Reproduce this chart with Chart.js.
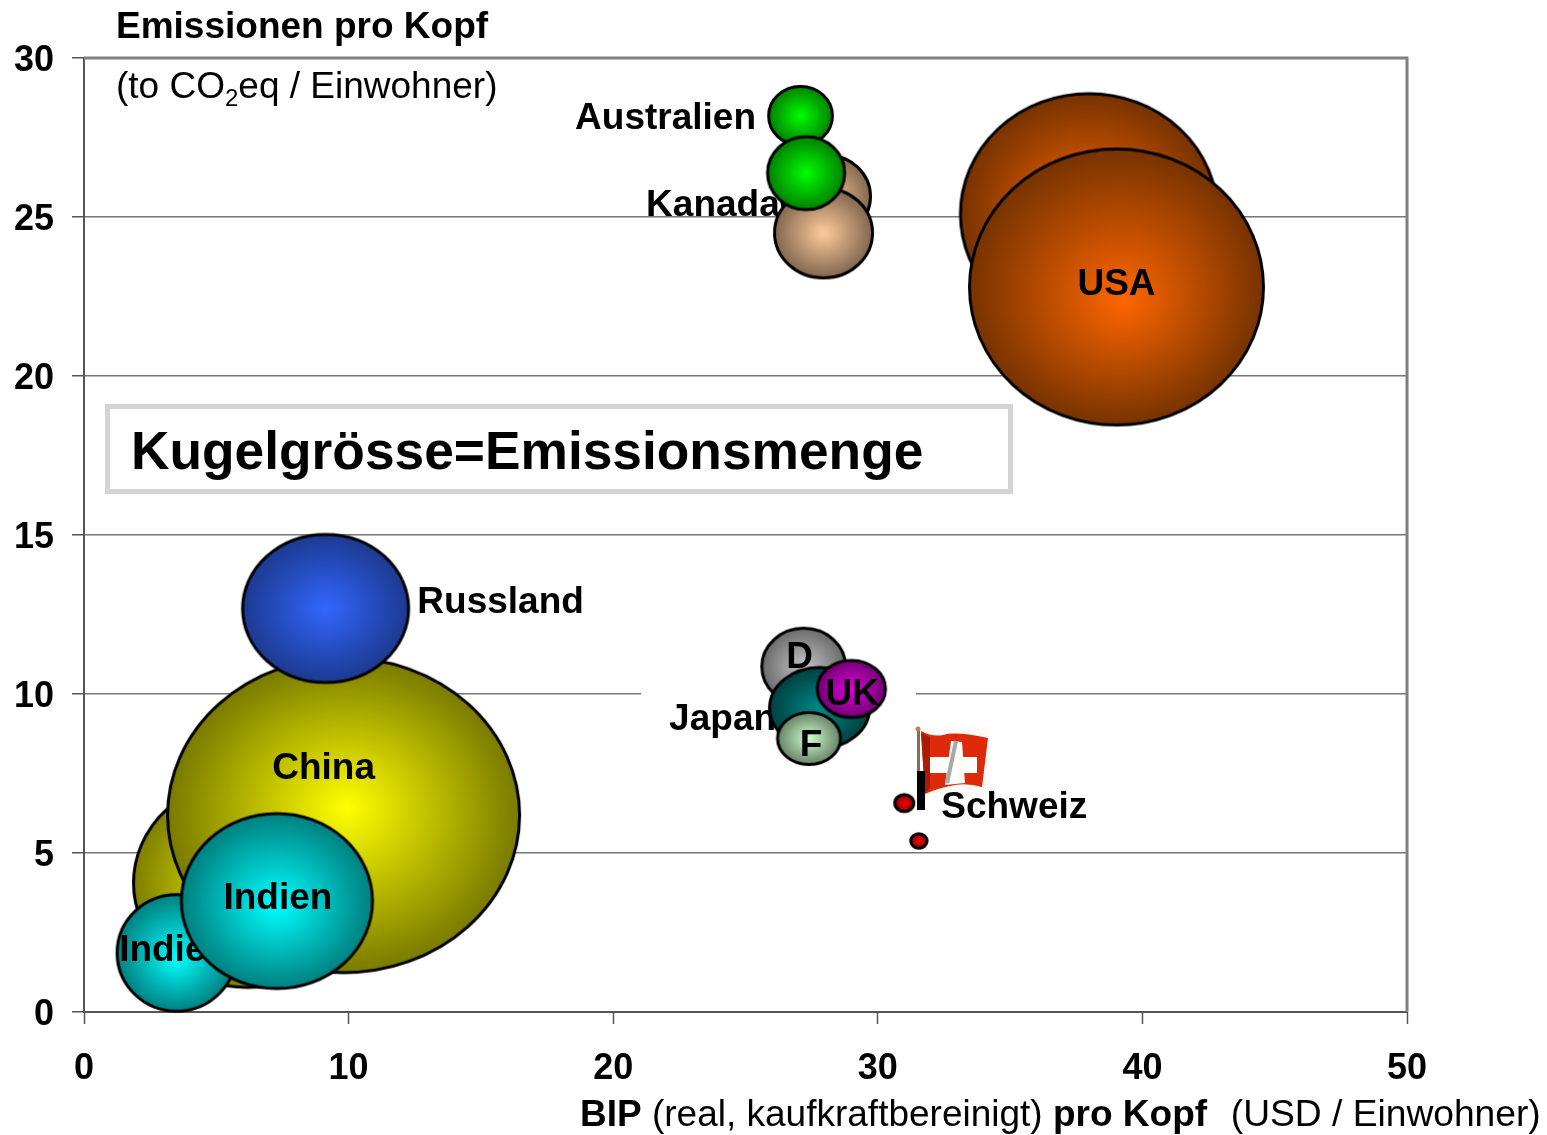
<!DOCTYPE html>
<html lang="de">
<head>
<meta charset="utf-8">
<title>Emissionen pro Kopf</title>
<script src="https://cdn.jsdelivr.net/npm/chart.js@4/dist/chart.umd.min.js"></script>
<style>
    html, body { margin: 0; padding: 0; background: #fff; }
    canvas { display: block; }
</style>
</head>
<body>
<canvas id="kugelChart" width="1547" height="1135"></canvas>
<script>
// Daten (je Land ein früheres und ein späteres Jahr)
const laender   = ['China alt', 'Indien alt', 'China', 'Indien', 'Russland', 'USA alt', 'USA', 'Kanada alt', 'Kanada', 'Australien alt', 'Australien', 'D', 'Japan', 'UK', 'F', 'Schweiz alt', 'Schweiz'];
const bipProKopf = [6.2, 3.5, 9.81, 7.29, 9.13, 37.98, 39.02, 28.04, 27.95, 27.08, 27.29, 27.2, 27.8, 29.0, 27.4, 31.0, 31.55];
const co2ProKopf = [4.06, 1.86, 6.19, 3.49, 12.69, 25.09, 22.8, 25.65, 24.5, 28.18, 26.38, 10.86, 9.56, 10.16, 8.6, 6.57, 5.38];
const co2Menge   = [5.29, 1.44, 12.46, 3.69, 2.79, 6.66, 8.7, 0.81, 0.98, 0.42, 0.61, 0.72, 1.02, 0.48, 0.41, 0.04, 0.03];
const xTicks = [0, 10, 20, 30, 40, 50];
const yTicks = [0, 5, 10, 15, 20, 25, 30];

// Darstellung der Kugeln
const RADIUS_FAKTOR = 50;
const stile = {
    'China alt':      { innen: '#ffff00', aussen: '#7f7f00', oval: 1.095, hx: 0.1, hy: 0 },
    'Indien alt':     { innen: '#00ffff', aussen: '#007f7f', oval: 1.02, hx: 0, hy: 0.1 },
    'China':          { innen: '#ffff00', aussen: '#7a7a00', oval: 1.117, hx: 0.02, hy: -0.05 },
    'Indien':         { innen: '#00ffff', aussen: '#007f7f', oval: 1.09, hx: 0, hy: 0.05 },
    'Russland':       { innen: '#3366ff', aussen: '#1c3a90', oval: 1.12, hx: 0, hy: 0 },
    'USA alt':        { innen: '#ff6600', aussen: '#773300', oval: 1.066, hx: 0, hy: 0 },
    'USA':            { innen: '#ff6600', aussen: '#773300', oval: 1.065, hx: 0.05, hy: 0.1 },
    'Kanada alt':     { innen: '#ffcc99', aussen: '#806650', oval: 1.07, hx: 0, hy: 0 },
    'Kanada':         { innen: '#ffcc99', aussen: '#806650', oval: 1.088, hx: 0, hy: 0 },
    'Australien alt': { innen: '#00ff00', aussen: '#007f00', oval: 1.083, hx: 0, hy: 0 },
    'Australien':     { innen: '#00ff00', aussen: '#007f00', oval: 1.054, hx: 0, hy: 0 },
    'D':              { innen: '#c4c4c4', aussen: '#6a6a6a', oval: 1.09, hx: 0, hy: 0 },
    'Japan':          { innen: '#008888', aussen: '#004040', oval: 1.23, hx: 0, hy: 0 },
    'UK':             { innen: '#dd00dd', aussen: '#700070', oval: 1.19, hx: 0, hy: 0 },
    'F':              { innen: '#ccffcc', aussen: '#668066', oval: 1.21, hx: 0, hy: 0 },
    'Schweiz alt':    { innen: '#ff0000', aussen: '#7f0000', oval: 1.11, hx: 0, hy: 0 },
    'Schweiz':        { innen: '#ff0000', aussen: '#7f0000', oval: 1.11, hx: 0, hy: 0 }
};

// Beschriftungen: Versatz in Pixeln zur Kugelmitte, darunter = vor der Kugel zeichnen
const beschriftungen = {
    'Indien alt': { text: 'Indien', dx: -3, dy: -2 },
    'China':      { text: 'China', dx: -20, dy: -46 },
    'Indien':     { text: 'Indien', dx: 1, dy: -2 },
    'Russland':   { text: 'Russland', dx: 175, dy: -6 },
    'USA':        { text: 'USA', dx: 0, dy: -2 },
    'Kanada alt': { text: 'Kanada', dx: -113, dy: 9 },
    'Australien alt': { text: 'Australien', dx: -135, dy: 3 },
    'D':          { text: 'D', dx: -4, dy: -9 },
    'Japan':      { text: 'Japan', dx: -97, dy: 12, darunter: true },
    'UK':         { text: 'UK', dx: 1, dy: 6 },
    'F':          { text: 'F', dx: 2, dy: 7 },
    'Schweiz alt': { text: 'Schweiz', dx: 110, dy: 5 }
};

const FONT = '"Liberation Sans", Arial, sans-serif';

// Kugel als kleines Canvas, Chart.js setzt es als pointStyle an den Datenpunkt
function kugelBild(stil, rx) {
    const ry = rx / stil.oval;
    const rand = 3;
    const bild = document.createElement('canvas');
    bild.width = Math.ceil(2 * rx + 2 * rand);
    bild.height = Math.ceil(2 * ry + 2 * rand);
    const ctx = bild.getContext('2d');
    const mx = bild.width / 2;
    const my = bild.height / 2;

    ctx.save();
    ctx.translate(mx, my);
    ctx.scale(1, 1 / stil.oval);
    const verlauf = ctx.createRadialGradient(stil.hx * rx, stil.hy * rx, 0, 0, 0, rx);
    verlauf.addColorStop(0, stil.innen);
    verlauf.addColorStop(1, stil.aussen);
    ctx.fillStyle = verlauf;
    ctx.beginPath();
    ctx.arc(0, 0, rx, 0, Math.PI * 2);
    ctx.fill();
    ctx.restore();

    ctx.beginPath();
    ctx.ellipse(mx, my, rx - 0.5, ry - 0.5, 0, 0, Math.PI * 2);
    ctx.lineWidth = 3;
    ctx.strokeStyle = '#000';
    ctx.stroke();
    return bild;
}

// Chart.js zeichnet von hinten nach vorne über order, darum absteigend
const datasets = laender.map((land, i) => {
    const r = RADIUS_FAKTOR * Math.sqrt(co2Menge[i]);
    return {
        label: land,
        order: laender.length - i,
        clip: false,
        data: [{ x: bipProKopf[i], y: co2ProKopf[i], r: r }],
        pointStyle: kugelBild(stile[land], r),
        backgroundColor: stile[land].innen,
        borderColor: '#000'
    };
});

function zeichneLabel(chart, land) {
    const b = beschriftungen[land];
    if (!b) return;
    const i = laender.indexOf(land);
    const px = chart.scales.x.getPixelForValue(bipProKopf[i]) + b.dx;
    const py = chart.scales.y.getPixelForValue(co2ProKopf[i]) + b.dy;
    const ctx = chart.ctx;
    ctx.save();
    ctx.font = 'bold 37px ' + FONT;
    ctx.fillStyle = '#000';
    ctx.textAlign = 'center';
    ctx.textBaseline = 'middle';
    ctx.fillText(b.text, px, py);
    ctx.restore();
}

// Text aus mehreren Stücken in einer Zeile
function textZeile(ctx, x, y, stuecke) {
    ctx.textAlign = 'left';
    ctx.textBaseline = 'alphabetic';
    ctx.fillStyle = '#000';
    stuecke.forEach(s => {
        ctx.font = s.font;
        x += s.vor || 0;
        ctx.fillText(s.text, x, y + (s.tief || 0));
        x += ctx.measureText(s.text).width;
    });
}

function zeichneFahne(ctx) {
    ctx.save();
    ctx.fillStyle = '#fdfbf8';
    ctx.fillRect(917, 727, 72, 68);
    // Stange
    ctx.fillStyle = '#8a6a5a';
    ctx.fillRect(917, 731, 3, 64);
    ctx.fillStyle = '#c08050';
    ctx.beginPath();
    ctx.arc(918, 729, 2.5, 0, Math.PI * 2);
    ctx.fill();
    // Tuch
    ctx.fillStyle = '#dd2a08';
    ctx.beginPath();
    ctx.moveTo(921, 731);
    ctx.quadraticCurveTo(932, 737, 943, 735);
    ctx.quadraticCurveTo(955, 731, 988, 738);
    ctx.lineTo(982, 787);
    ctx.quadraticCurveTo(968, 783, 955, 785);
    ctx.quadraticCurveTo(938, 788, 925, 794);
    ctx.closePath();
    ctx.fill();
    ctx.fillStyle = '#a81c05';
    ctx.beginPath();
    ctx.moveTo(921, 733);
    ctx.lineTo(930, 737);
    ctx.lineTo(930, 788);
    ctx.lineTo(925, 793);
    ctx.closePath();
    ctx.fill();
    // Kreuz
    ctx.fillStyle = '#fdfdfa';
    ctx.fillRect(930, 757, 47, 16);
    ctx.beginPath();
    ctx.moveTo(951, 741);
    ctx.lineTo(962, 742);
    ctx.lineTo(965, 783);
    ctx.lineTo(945, 785);
    ctx.closePath();
    ctx.fill();
    ctx.strokeStyle = '#a8a8a8';
    ctx.lineWidth = 4;
    ctx.beginPath();
    ctx.moveTo(956, 741);
    ctx.lineTo(947, 783);
    ctx.stroke();
    ctx.restore();
}

const schmuckPlugin = {
    id: 'schmuck',
    beforeDatasetsDraw(chart) {
        const ctx = chart.ctx;
        const a = chart.chartArea;
        ctx.save();
        // Rahmen oben und rechts
        ctx.strokeStyle = '#808080';
        ctx.lineWidth = 3;
        ctx.beginPath();
        ctx.moveTo(a.left, a.top);
        ctx.lineTo(a.right, a.top);
        ctx.lineTo(a.right, a.bottom);
        ctx.stroke();
        // Lücke in der 10er-Linie
        ctx.fillStyle = '#fff';
        ctx.fillRect(641, chart.scales.y.getPixelForValue(10) - 3, 275, 6);
        // Hinweisfeld
        ctx.fillStyle = '#fff';
        ctx.fillRect(107, 406, 904, 86);
        ctx.strokeStyle = '#d4d4d4';
        ctx.lineWidth = 5;
        ctx.strokeRect(107.5, 406.5, 903, 85);
        ctx.restore();

        ctx.save();
        textZeile(ctx, 131, 469, [{ text: 'Kugelgrösse=Emissionsmenge', font: 'bold 53.3px ' + FONT }]);
        textZeile(ctx, 116, 38, [{ text: 'Emissionen pro Kopf', font: 'bold 37px ' + FONT }]);
        textZeile(ctx, 116, 98, [
            { text: '(to CO', font: '37px ' + FONT },
            { text: '2', font: '24px ' + FONT, tief: 8 },
            { text: 'eq / Einwohner)', font: '37px ' + FONT }
        ]);
        textZeile(ctx, 580, 1126, [
            { text: 'BIP', font: 'bold 37px ' + FONT },
            { text: ' (real, kaufkraftbereinigt) ', font: '37px ' + FONT },
            { text: 'pro Kopf', font: 'bold 37px ' + FONT },
            { text: '  (USD / Einwohner)', font: '37.2px ' + FONT, vor: 3 }
        ]);
        zeichneFahne(ctx);
        ctx.restore();
    },
    beforeDatasetDraw(chart, args) {
        const land = laender[args.index];
        const b = beschriftungen[land];
        if (b && b.darunter) zeichneLabel(chart, land);
    },
    afterDatasetDraw(chart, args) {
        const land = laender[args.index];
        const b = beschriftungen[land];
        if (b && !b.darunter) zeichneLabel(chart, land);
    },
    afterDatasetsDraw(chart) {
        // schwarzer Strich an der Fahne
        chart.ctx.save();
        chart.ctx.fillStyle = '#000';
        chart.ctx.fillRect(917, 771, 8, 39);
        chart.ctx.restore();
    }
};

new Chart(document.getElementById('kugelChart').getContext('2d'), {
    type: 'bubble',
    data: { datasets: datasets },
    plugins: [schmuckPlugin],
    options: {
        responsive: false,
        animation: false,
        events: [],
        devicePixelRatio: 1,
        layout: { autoPadding: false, padding: { left: 0, right: 140, top: 58, bottom: 0 } },
        plugins: {
            legend: { display: false },
            title: { display: false },
            tooltip: { enabled: false }
        },
        scales: {
            x: {
                type: 'linear',
                min: 0,
                max: 50,
                afterBuildTicks: axis => { axis.ticks = xTicks.map(v => ({ value: v })); },
                afterFit: axis => { axis.height = 123; },
                grid: { drawOnChartArea: false, drawTicks: true, tickLength: 12, tickColor: '#555', tickWidth: 1.5 },
                border: { color: '#555', width: 2 },
                ticks: { color: '#000', padding: 23, maxRotation: 0, font: { family: FONT, size: 36, weight: 'bold' } }
            },
            y: {
                type: 'linear',
                min: 0,
                max: 30,
                afterBuildTicks: axis => { axis.ticks = yTicks.map(v => ({ value: v })); },
                afterFit: axis => { axis.width = 84; },
                grid: { color: '#777', lineWidth: 1.5, drawTicks: true, tickLength: 12, tickColor: '#555', tickWidth: 1.5 },
                border: { color: '#555', width: 2 },
                ticks: { color: '#000', padding: 18, labelOffset: 3.5, font: { family: FONT, size: 36, weight: 'bold' } }
            }
        }
    }
});
</script>
</body>
</html>
